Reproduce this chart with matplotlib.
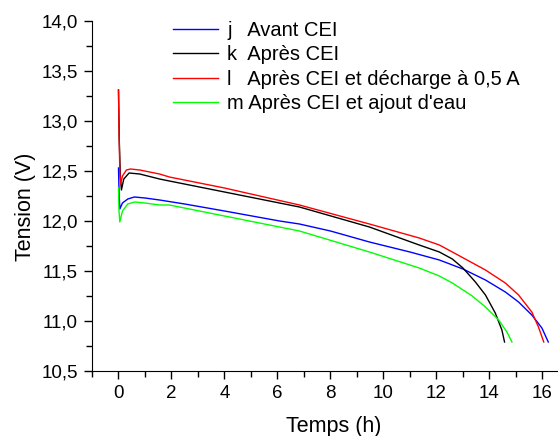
import matplotlib.pyplot as plt
from matplotlib.ticker import MultipleLocator, FuncFormatter

plt.rcParams['font.family'] = ['Liberation Sans', 'DejaVu Sans']

# Avant CEI
t_avant = [0, 0.02, 0.05, 0.15, 0.35, 0.6, 1.0, 1.55, 2.5, 4, 6.08, 6.83, 8, 9.47, 11, 12.11,
           13, 13.85, 14.6, 15.1, 15.6, 15.98, 16.22]
v_avant = [12.53, 12.3, 12.12, 12.18, 12.22, 12.24, 12.23, 12.21, 12.17, 12.10, 12.0, 11.97, 11.90,
           11.79, 11.69, 11.61, 11.52, 11.41, 11.29, 11.19, 11.06, 10.93, 10.79]

# Après CEI
t_apres = [0, 0.03, 0.07, 0.11, 0.2, 0.4, 0.8, 1.55, 1.92, 4, 6.83, 9.47, 11.35, 12.11,
           12.6, 13.0, 13.47, 13.85, 14.22, 14.47, 14.57]
v_apres = [13.31, 12.8, 12.45, 12.31, 12.42, 12.48, 12.47, 12.42, 12.40, 12.29, 12.14, 11.94,
           11.76, 11.69, 11.62, 11.53, 11.39, 11.26, 11.08, 10.91, 10.79]

# Après CEI et décharge à 0,5 A
t_decharge = [0, 0.02, 0.05, 0.08, 0.15, 0.3, 0.45, 0.8, 1.55, 1.92, 4, 6.83, 9.47, 11.35,
              12.11, 12.6, 13.85, 14.6, 15.1, 15.6, 15.85, 16.05]
v_decharge = [13.31, 12.9, 12.5, 12.37, 12.45, 12.51, 12.52, 12.51, 12.47, 12.44, 12.33, 12.16,
              11.97, 11.83, 11.76, 11.69, 11.51, 11.38, 11.26, 11.09, 10.94, 10.79]

# Après CEI et ajout d'eau
t_eau = [0, 0.02, 0.05, 0.15, 0.35, 0.6, 1.0, 1.55, 1.92, 4, 6.83, 9.47, 11.35, 12.11,
         12.6, 13.35, 13.85, 14.35, 14.66, 14.85]
v_eau = [12.33, 12.1, 11.99, 12.1, 12.17, 12.19, 12.18, 12.16, 12.16, 12.05, 11.90, 11.69,
         11.53, 11.45, 11.38, 11.25, 11.14, 11.01, 10.89, 10.79]

labels = ["j   Avant CEI", "k  Après CEI", "l   Après CEI et décharge à 0,5 A",
          "m Après CEI et ajout d'eau"]

fig = plt.figure(figsize=(5.6, 4.36), dpi=100)
ax = fig.add_axes([92/560, 1 - 371/436, (557-92)/560, (371-21)/436])

ax.plot(t_avant, v_avant, color='#0000ff', lw=1, label=labels[0])
ax.plot(t_apres, v_apres, color='black', lw=1, label=labels[1])
ax.plot(t_decharge, v_decharge, color='#ff0000', lw=1, label=labels[2])
ax.plot(t_eau, v_eau, color='#00ff00', lw=1, label=labels[3])

ax.set_xlim(-1, 16.55)
ax.set_ylim(10.5, 14.0)
ax.xaxis.set_major_locator(MultipleLocator(2))
ax.xaxis.set_minor_locator(MultipleLocator(1))
ax.yaxis.set_major_locator(MultipleLocator(0.5))
ax.yaxis.set_minor_locator(MultipleLocator(0.25))
ax.yaxis.set_major_formatter(FuncFormatter(lambda v, p: f"{v:.1f}".replace('.', ',')))

for s in ['top', 'right']:
    ax.spines[s].set_visible(False)
ax.tick_params(which='major', direction='out', length=6, width=1, labelsize=13.5, pad=4)
ax.tick_params(which='minor', direction='out', length=4, width=1)

ax.set_xlabel('Temps (h)', fontsize=15.5, labelpad=10, x=0.52)
ax.set_ylabel('Tension (V)', fontsize=15.5, labelpad=4, y=0.47)

ax.legend(loc='upper left', bbox_to_anchor=(173/560, 1 - 21/436), bbox_transform=fig.transFigure,
          frameon=False, fontsize=14.5, handlelength=2.25, handletextpad=0.45,
          labelspacing=0.27, borderpad=0, borderaxespad=0)

fig.savefig('out.png', dpi=100)
